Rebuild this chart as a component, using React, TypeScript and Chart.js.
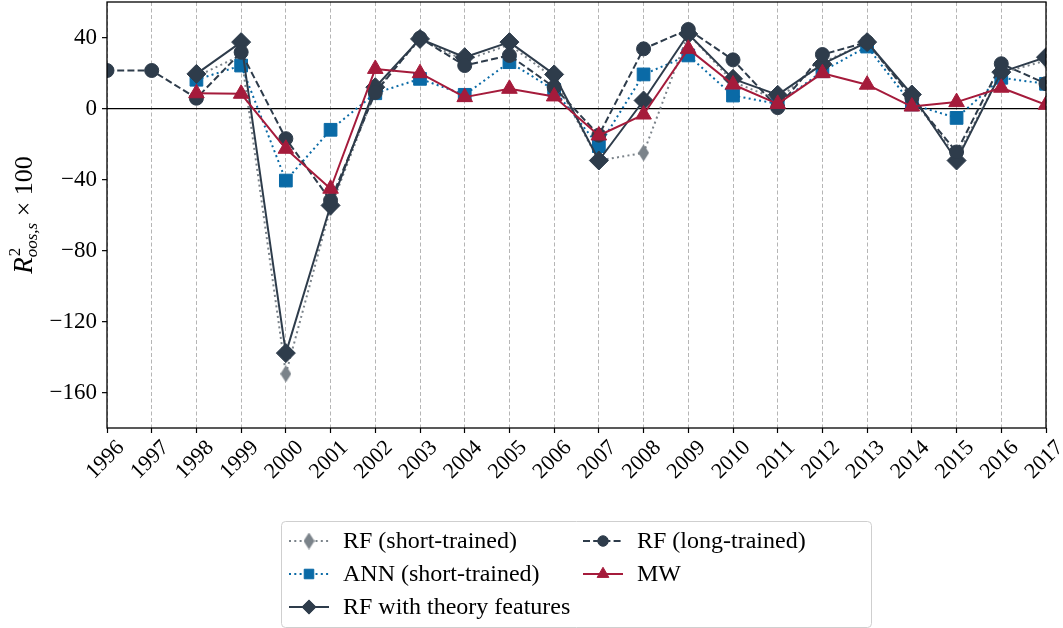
import React, { useEffect, useRef } from 'react';
import { Chart, registerables } from 'chart.js';
import { drawPoint } from 'chart.js/helpers';

Chart.register(...registerables);

// Out-of-sample R² (×100) by year for each model
const years = [
  '1996', '1997', '1998', '1999', '2000', '2001', '2002', '2003', '2004', '2005', '2006',
  '2007', '2008', '2009', '2010', '2011', '2012', '2013', '2014', '2015', '2016', '2017',
];

const rfShort = [null, null, 18, 30, -149.5, -56, 10, 39, 27, 36, 17, -29.3, -25, 42, 15, 5, 26, 37, 6, -27, 20, 27];
const rfLong = [21.4, 21.4, 5.8, 31.7, -17, -51.8, 9, 39.7, 24.2, 29.9, 12, -15, 33.6, 44.5, 27.4, 0.5, 30.4, 37.4, 6, -24.5, 25.2, 14];
const annShort = [null, null, 16.2, 24.2, -40.6, -12, 8.6, 16.7, 7.7, 26.1, 10.5, -21.2, 19.2, 29.9, 7.3, 2.6, 21, 34.9, 2.3, -5.3, 17.3, 13.9];
const rfTheory = [null, null, 19.5, 37.4, -137.8, -54.6, 12, 39.2, 28.9, 37.4, 19.2, -29.3, 4.5, 42, 16.7, 7.7, 25, 37.4, 7.9, -29.3, 20.5, 28.9];
const mw = [null, null, 8.6, 8.3, -22.7, -45.2, 22.3, 19.9, 6.4, 11.1, 6.8, -15.2, -3.4, 33.6, 13.5, 2.6, 19.9, 13.4, 1.1, 3.6, 11.7, 2.1];

const yTickValues = [-160, -120, -80, -40, 0, 40];

const SERIF = '"Liberation Serif", "DejaVu Serif", serif';
const DARK = '#2E3C4B';
const BLUE = '#0A6AA6';
const RED = '#A51B3B';
const GRAY = '#7B838A';

function thinDiamond(color: string, w: number, h: number) {
  const c = document.createElement('canvas');
  c.width = w;
  c.height = h;
  const g = c.getContext('2d') as CanvasRenderingContext2D;
  g.fillStyle = color;
  g.beginPath();
  g.moveTo(w / 2, 0);
  g.lineTo(w, h / 2);
  g.lineTo(w / 2, h);
  g.lineTo(0, h / 2);
  g.closePath();
  g.fill();
  return c;
}

const fmtTick = (v: number) => (v < 0 ? '\u2212' + Math.abs(v) : String(v));

// Axes frame drawn on top of everything
const framePlugin = {
  id: 'frame',
  afterDraw(chart: any) {
    const { ctx, chartArea: a } = chart;
    ctx.save();
    ctx.strokeStyle = '#000';
    ctx.lineWidth = 1.3;
    ctx.strokeRect(a.left, a.top, a.right - a.left, a.bottom - a.top);
    ctx.restore();
  },
};

// Vertical y-axis title with super/subscripts
const yTitlePlugin = {
  id: 'yTitle',
  afterDraw(chart: any) {
    const { ctx, chartArea: a } = chart;
    const parts = [
      { t: 'R', font: `italic 27px ${SERIF}`, dy: 0, stack: false },
      { t: '2', font: `17px ${SERIF}`, dy: -12, stack: true },
      { t: 'oos,s', font: `italic 17px ${SERIF}`, dy: 5, stack: false },
      { t: ' \u00d7 100', font: `26px ${SERIF}`, dy: 0, stack: false },
    ];
    ctx.save();
    ctx.translate(32, (a.top + a.bottom) / 2);
    ctx.rotate(-Math.PI / 2);
    ctx.fillStyle = '#000';
    ctx.textBaseline = 'alphabetic';
    ctx.textAlign = 'left';
    const widths = parts.map((p) => {
      ctx.font = p.font;
      return ctx.measureText(p.t).width;
    });
    let total = 0;
    parts.forEach((p, i) => {
      if (!p.stack) total += widths[i];
    });
    let x = -total / 2;
    parts.forEach((p, i) => {
      ctx.font = p.font;
      ctx.fillText(p.t, x + (p.t === '2' ? 1 : 0), p.dy);
      if (!p.stack) x += widths[i];
    });
    ctx.restore();
  },
};

type LegendEntry = { ds: number; col: number; row: number };
const legendLayout: LegendEntry[] = [
  { ds: 4, col: 0, row: 0 },
  { ds: 3, col: 0, row: 1 },
  { ds: 2, col: 0, row: 2 },
  { ds: 1, col: 1, row: 0 },
  { ds: 0, col: 1, row: 1 },
];

function roundRect(ctx: CanvasRenderingContext2D, x: number, y: number, w: number, h: number, r: number) {
  ctx.beginPath();
  ctx.moveTo(x + r, y);
  ctx.lineTo(x + w - r, y);
  ctx.arcTo(x + w, y, x + w, y + r, r);
  ctx.lineTo(x + w, y + h - r);
  ctx.arcTo(x + w, y + h, x + w - r, y + h, r);
  ctx.lineTo(x + r, y + h);
  ctx.arcTo(x, y + h, x, y + h - r, r);
  ctx.lineTo(x, y + r);
  ctx.arcTo(x, y, x + r, y, r);
  ctx.closePath();
}

// Two-column legend box under the axis
const legendPlugin = {
  id: 'twoColLegend',
  afterDraw(chart: any) {
    const { ctx } = chart;
    const bx = 281, by = 521, bw = 590, bh = 106;
    ctx.save();
    roundRect(ctx, bx + 0.5, by + 0.5, bw, bh, 4);
    ctx.fillStyle = 'rgba(255,255,255,0.85)';
    ctx.fill();
    ctx.strokeStyle = '#cfcfcf';
    ctx.lineWidth = 1;
    ctx.stroke();
    legendLayout.forEach((e) => {
      const ds = chart.data.datasets[e.ds];
      const x0 = 289 + e.col * 294;
      const y = 541 + e.row * 33;
      ctx.save();
      ctx.strokeStyle = ds.borderColor;
      ctx.lineWidth = ds.borderWidth;
      ctx.setLineDash(ds.borderDash || []);
      ctx.beginPath();
      ctx.moveTo(x0, y);
      ctx.lineTo(x0 + 40, y);
      ctx.stroke();
      ctx.setLineDash([]);
      ctx.fillStyle = ds.pointBackgroundColor;
      ctx.strokeStyle = ds.pointBorderColor;
      ctx.lineWidth = 1;
      drawPoint(ctx, { pointStyle: ds.pointStyle, radius: ds.pointRadius * 0.75, rotation: 0, borderWidth: 1 } as any, x0 + 20, y);
      ctx.restore();
      ctx.fillStyle = '#000';
      ctx.font = `24px ${SERIF}`;
      ctx.textBaseline = 'middle';
      ctx.textAlign = 'left';
      ctx.fillText(ds.label, x0 + 54, y + 1);
    });
    ctx.restore();
  },
};

export default function App() {
  const canvasRef = useRef<HTMLCanvasElement | null>(null);

  useEffect(() => {
    const canvas = canvasRef.current;
    if (!canvas) return;
    const grayDiamond = thinDiamond(GRAY, 11, 17);
    const common = {
      borderWidth: 2,
      pointBorderWidth: 1,
      borderJoinStyle: 'round' as const,
      clip: 0,
      spanGaps: false,
    };
    const chart = new Chart(canvas, {
      type: 'line',
      data: {
        labels: years,
        datasets: [
          {
            ...common,
            label: 'MW',
            data: mw,
            borderColor: RED,
            pointBackgroundColor: RED,
            pointBorderColor: RED,
            pointStyle: 'triangle',
            pointRadius: 9,
          },
          {
            ...common,
            label: 'RF (long-trained)',
            data: rfLong,
            borderColor: DARK,
            borderDash: [7, 3.2],
            pointBackgroundColor: DARK,
            pointBorderColor: DARK,
            pointStyle: 'circle',
            pointRadius: 7,
          },
          {
            ...common,
            label: 'RF with theory features',
            data: rfTheory,
            borderColor: DARK,
            pointBackgroundColor: DARK,
            pointBorderColor: DARK,
            pointStyle: 'rectRot',
            pointRadius: 9.5,
          },
          {
            ...common,
            label: 'ANN (short-trained)',
            data: annShort,
            borderColor: BLUE,
            borderDash: [2, 3.3],
            pointBackgroundColor: BLUE,
            pointBorderColor: BLUE,
            pointStyle: 'rect',
            pointRadius: 9,
          },
          {
            ...common,
            label: 'RF (short-trained)',
            data: rfShort,
            borderColor: GRAY,
            borderDash: [2, 3.3],
            pointBackgroundColor: GRAY,
            pointBorderColor: GRAY,
            pointStyle: grayDiamond as any,
            pointRadius: 8,
          },
        ],
      },
      options: {
        responsive: false,
        animation: false,
        devicePixelRatio: 1,
        layout: { autoPadding: false, padding: { top: 2, right: 17, left: 0, bottom: 0 } },
        plugins: { legend: { display: false }, tooltip: { enabled: false } },
        scales: {
          x: {
            type: 'category',
            offset: false,
            grid: {
              display: true,
              drawOnChartArea: true,
              color: '#b5b5b5',
              lineWidth: 1,
              borderDash: [4, 2.5],
              drawTicks: true,
              tickLength: 5,
              tickColor: '#000',
              tickWidth: 1.2,
            } as any,
            border: { display: false, dash: [4, 2.5] },
            ticks: {
              autoSkip: false,
              minRotation: 45,
              maxRotation: 45,
              padding: 2,
              labelOffset: 14,
              color: '#000',
              font: { family: SERIF, size: 22 },
            },
            afterFit: (s: any) => {
              s.height = 200;
              s.paddingLeft = 0;
              s.paddingRight = 0;
            },
          },
          y: {
            min: -180,
            max: 60,
            afterBuildTicks: (s: any) => {
              s.ticks = yTickValues.map((v) => ({ value: v }));
            },
            grid: {
              drawOnChartArea: true,
              color: (c: any) => (c.tick && c.tick.value === 0 ? '#000' : 'rgba(0,0,0,0)'),
              lineWidth: 1.3,
              drawTicks: true,
              tickLength: 5,
              tickColor: '#000',
              tickWidth: 1.2,
            },
            border: { display: false },
            ticks: {
              padding: 5,
              color: '#000',
              font: { family: SERIF, size: 23 },
              callback: (v: any) => fmtTick(Number(v)),
            },
            afterFit: (s: any) => {
              s.width = 107;
              s.paddingTop = 0;
              s.paddingBottom = 0;
            },
          },
        },
      },
      plugins: [framePlugin, yTitlePlugin, legendPlugin],
    });
    return () => chart.destroy();
  }, []);

  return (
    <div style={{ position: 'fixed', left: 0, top: 0, width: 1063, height: 628, background: '#fff' }}>
      <canvas ref={canvasRef} width={1063} height={628} style={{ display: 'block' }} />
    </div>
  );
}
